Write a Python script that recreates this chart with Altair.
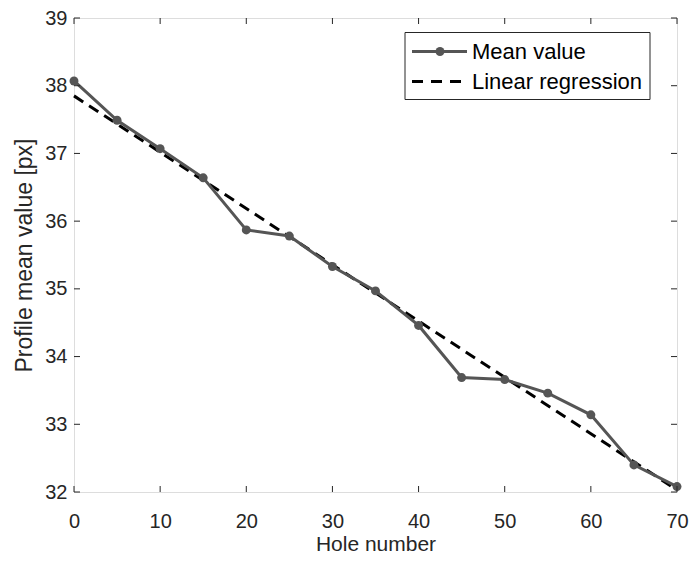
import altair as alt
import pandas as pd

# ---- data ----
holes = [0, 5, 10, 15, 20, 25, 30, 35, 40, 45, 50, 55, 60, 65, 70]
mean_values = [38.07, 37.49, 37.07, 36.64, 35.87, 35.78, 35.33, 34.97,
               34.46, 33.69, 33.66, 33.46, 33.14, 32.40, 32.08]
reg_holes = [0, 70]
reg_values = [37.85, 32.03]
x_ticks = [0, 10, 20, 30, 40, 50, 60, 70]
y_ticks = [32, 33, 34, 35, 36, 37, 38, 39]
series_names = ["Mean value", "Linear regression"]

W, H = 603, 474
FONT = "Liberation Sans"
GRAY = "#555555"
AX = "#262626"

mean_df = pd.DataFrame({"hole": holes, "value": mean_values})
reg_df = pd.DataFrame({"hole": reg_holes, "value": reg_values})
xt_df = pd.DataFrame({"t": x_ticks})
yt_df = pd.DataFrame({"t": y_ticks})
one = pd.DataFrame({"k": [0]})

xs = alt.Scale(domain=[0, 70], nice=False)
ys = alt.Scale(domain=[32, 39], nice=False)

x_axis = alt.Axis(values=x_ticks, format="d", ticks=False, domain=False, grid=False,
                  labelFlush=False, labelOverlap=False,
                  labelFontSize=20, labelPadding=19, labelColor=AX,
                  title="Hole number", titleFontSize=21, titleFontWeight="normal",
                  titleColor=AX, titlePadding=2, labelFont=FONT, titleFont=FONT)
y_axis = alt.Axis(values=y_ticks, format="d", ticks=False, domain=False, grid=False,
                  labelFlush=False, labelOverlap=False,
                  labelFontSize=20, labelPadding=7, labelColor=AX,
                  title="Profile mean value [px]", titleFontSize=23,
                  titleFontWeight="normal", titleColor=AX, titlePadding=8,
                  labelFont=FONT, titleFont=FONT)

reg = alt.Chart(reg_df).mark_line(color="black", strokeWidth=3, strokeDash=[11, 7]).encode(
    x=alt.X("hole:Q", scale=xs, axis=x_axis),
    y=alt.Y("value:Q", scale=ys, axis=y_axis),
)
mean_line = alt.Chart(mean_df).mark_line(color=GRAY, strokeWidth=3).encode(
    x=alt.X("hole:Q", scale=xs),
    y=alt.Y("value:Q", scale=ys),
)
mean_pts = alt.Chart(mean_df).mark_point(filled=True, color=GRAY, size=80, opacity=1).encode(
    x=alt.X("hole:Q", scale=xs),
    y=alt.Y("value:Q", scale=ys),
)

TL = 6
tick_style = dict(color=AX, strokeWidth=1)
bt = alt.Chart(xt_df).mark_rule(**tick_style).encode(
    x=alt.X("t:Q", scale=xs), y=alt.value(H), y2=alt.value(H - TL))
tt = alt.Chart(xt_df).mark_rule(**tick_style).encode(
    x=alt.X("t:Q", scale=xs), y=alt.value(0), y2=alt.value(TL))
lt = alt.Chart(yt_df).mark_rule(**tick_style).encode(
    y=alt.Y("t:Q", scale=ys), x=alt.value(0), x2=alt.value(TL))
rt = alt.Chart(yt_df).mark_rule(**tick_style).encode(
    y=alt.Y("t:Q", scale=ys), x=alt.value(W), x2=alt.value(W - TL))

# ---- legend box ----
LX0, LX1, LY0, LY1 = 331, 576, 14.5, 81.5
r1, r2 = 33.5, 63.5
box = alt.Chart(one).mark_rect(fill="white", stroke=AX, strokeWidth=1).encode(
    x=alt.value(LX0), x2=alt.value(LX1), y=alt.value(LY0), y2=alt.value(LY1))
leg1 = alt.Chart(one).mark_rule(color=GRAY, strokeWidth=3).encode(
    x=alt.value(338), x2=alt.value(393), y=alt.value(r1))
leg1p = alt.Chart(one).mark_point(filled=True, color=GRAY, size=80, opacity=1).encode(
    x=alt.value(366), y=alt.value(r1))
leg2 = alt.Chart(one).mark_rule(color="black", strokeWidth=3, strokeDash=[11, 8]).encode(
    x=alt.value(338), x2=alt.value(393), y=alt.value(r2))
leg_df = pd.DataFrame({"name": series_names, "yy": [r1, r2]})
leg_txt = alt.Chart(leg_df).mark_text(align="left", baseline="middle", font=FONT,
                                      fontSize=22, color="black").encode(
    x=alt.value(398), y=alt.Y("yy:Q", scale=None), text="name:N")

chart = alt.layer(
    reg, mean_line, mean_pts, bt, tt, lt, rt, box, leg1, leg1p, leg2, leg_txt
).properties(
    width=W, height=H,
    autosize=alt.AutoSizeParams(type="none"),
    padding={"left": 66, "top": 10, "right": 12, "bottom": 62},
).configure_view(
    stroke=AX, strokeWidth=1
).configure(background="white")

chart.save("out.html", embed_options={"renderer": "svg", "actions": False})
